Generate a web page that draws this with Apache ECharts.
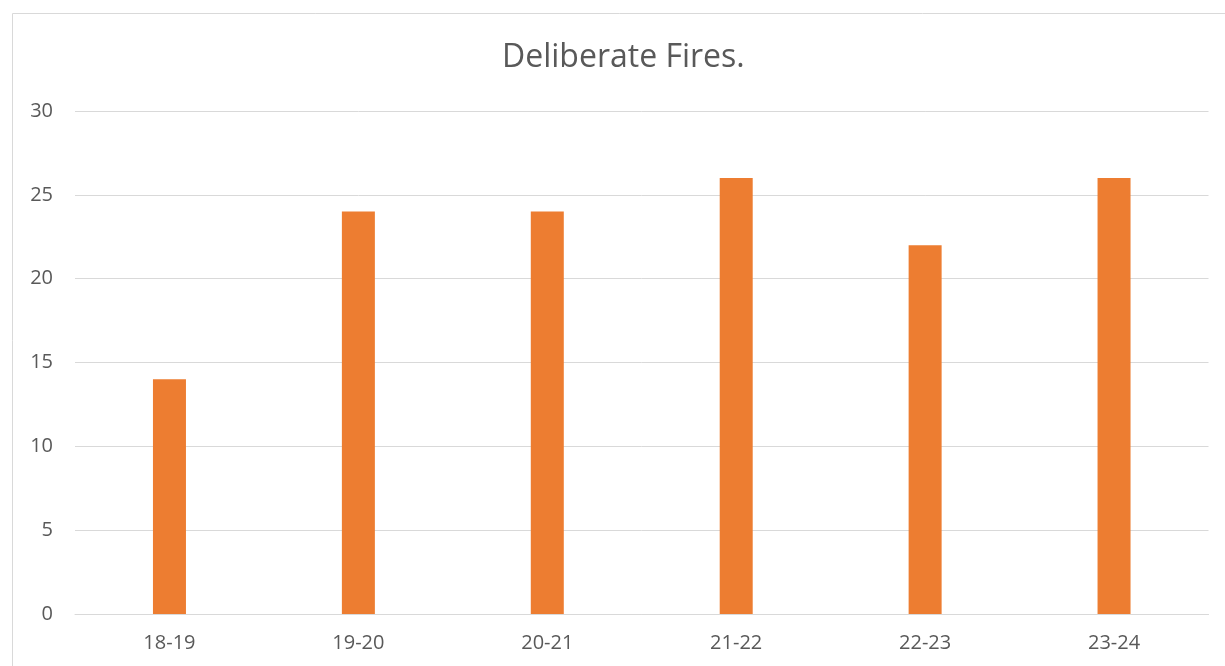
<!DOCTYPE html>
<html>
<head>
<meta charset="utf-8">
<script src="https://cdn.jsdelivr.net/npm/echarts@6/dist/echarts.min.js"></script>
<style>
  html, body { margin: 0; padding: 0; background: #fff; }
  #chart { width: 1225px; height: 666px; }
</style>
</head>
<body>
<div id="chart"></div>
<script>
const categories = ['18-19', '19-20', '20-21', '21-22', '22-23', '23-24']
const fires = [14, 24, 24, 26, 22, 26]
const yTicks = { min: 0, max: 30, interval: 5 }

const chart = echarts.init(document.getElementById('chart'))
const font = '"Open Sans", "Noto Sans", sans-serif'

chart.setOption({
    animation: false,
    textStyle: { fontFamily: font },
    graphic: [{
        type: 'rect',
        shape: { x: 12.5, y: 13.5, width: 1300, height: 700 },
        style: { fill: 'none', stroke: '#d9d9d9', lineWidth: 1 },
        silent: true
    }],
    // title sits a bit right of the canvas centre in the original
    title: {
        text: 'Deliberate Fires.',
        left: 497,
        top: 37,
        textStyle: { fontFamily: font, fontSize: 32, fontWeight: 'normal', color: '#595959' }
    },
    grid: { left: 75, right: 16.5, top: 111, bottom: 52 },
    xAxis: {
        type: 'category',
        data: categories,
        axisLine: { lineStyle: { color: '#d9d9d9', width: 1 } },
        axisTick: { show: false },
        axisLabel: { color: '#595959', fontSize: 20, margin: 19, fontFamily: font }
    },
    yAxis: {
        type: 'value',
        min: yTicks.min,
        max: yTicks.max,
        interval: yTicks.interval,
        axisLine: { show: false },
        axisTick: { show: false },
        axisLabel: { color: '#595959', fontSize: 20, margin: 22, fontFamily: font },
        splitLine: { lineStyle: { color: '#d9d9d9', width: 1 } }
    },
    series: [{
        type: 'bar',
        data: fires,
        barWidth: 33,
        itemStyle: { color: '#ed7d31' }
    }]
})
</script>
</body>
</html>
